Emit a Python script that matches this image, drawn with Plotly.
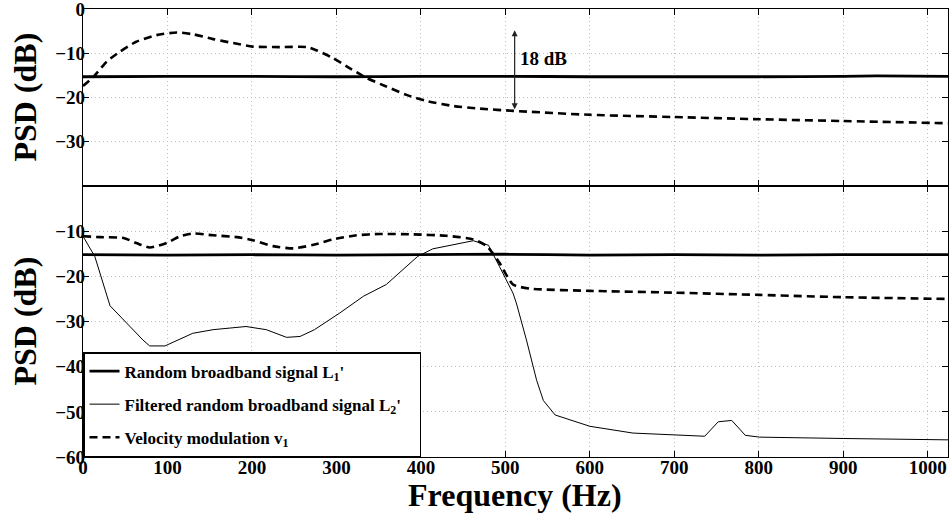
import plotly.graph_objects as go

# ---------------- data ----------------
freq_L1 = [0, 100, 200, 300, 400, 500, 600, 700, 800, 900, 940, 1024]
top_L1 = [-15.3, -15.2, -15.2, -15.3, -15.2, -15.2, -15.3, -15.3, -15.3, -15.2, -15.1, -15.2]
bot_L1 = [-15.2, -15.3, -15.2, -15.3, -15.2, -15.1, -15.3, -15.2, -15.3, -15.2, -15.2, -15.2]

freq_top_v1 = [0, 12, 28, 44, 63, 87, 111, 130, 154, 178, 201, 233, 265, 276, 296, 316,
               336, 359, 383, 407, 438, 470, 509, 600, 700, 801, 899, 1024]
top_v1 = [-17.4, -15.4, -11.9, -9.6, -7.4, -5.9, -5.3, -5.7, -6.8, -7.7, -8.5, -8.6, -8.6,
          -9.3, -11.1, -13.4, -15.6, -17.5, -19.4, -20.8, -21.9, -22.5, -23.0, -23.9,
          -24.4, -24.9, -25.3, -25.8]

freq_bot_v1 = [0, 20, 48, 63, 79, 99, 115, 130, 154, 182, 201, 225, 249, 273, 296, 324,
               351, 391, 430, 462, 478, 493, 509, 529, 600, 700, 801, 899, 1024]
bot_v1 = [-11.1, -11.3, -11.5, -12.6, -13.6, -12.6, -11.1, -10.5, -10.9, -11.3, -12.0,
          -13.3, -13.8, -13.0, -11.8, -10.9, -10.6, -10.7, -11.0, -11.8, -13.3, -17.0,
          -21.8, -22.7, -23.2, -23.6, -24.1, -24.6, -25.0]

freq_L2 = [0, 14, 32, 71, 79, 97, 130, 154, 193, 217, 241, 257, 274, 304, 332, 359, 396,
           414, 462, 480, 493, 509, 513, 525, 537, 545, 559, 600, 651, 700, 736, 752, 768,
           784, 801, 900, 1024]
bot_L2 = [-11.1, -15.6, -26.5, -34.1, -35.4, -35.4, -32.6, -31.8, -31.1, -31.8, -33.5,
          -33.3, -31.8, -28.1, -24.4, -21.8, -15.6, -13.9, -12.1, -13.1, -17.8, -23.7,
          -25.9, -34.1, -43.0, -47.5, -50.7, -53.2, -54.7, -55.1, -55.4, -52.2, -51.9,
          -55.2, -55.6, -55.9, -56.2]

x_ticks = [0, 100, 200, 300, 400, 500, 600, 700, 800, 900, 1000]
top_yticks = [0, -10, -20, -30]
bot_yticks = [-10, -20, -30, -40, -50, -60]

arrow_f = 511
arrow_top = -4.8
arrow_bot = -23.0

names = ["Random broadband signal L<sub>1</sub>'",
         "Filtered random broadband signal L<sub>2</sub>'&nbsp;&nbsp;&nbsp;",
         "Velocity modulation v<sub>1</sub>"]

# ---------------- figure ----------------
FONT = "Liberation Serif"
DASH = "8px,5px"

fig = go.Figure()

# bottom panel (x, y)
fig.add_trace(go.Scatter(x=freq_L1, y=bot_L1, mode="lines", name=names[0],
                         line=dict(color="black", width=2.8, shape="spline", smoothing=0.4),
                         legendgroup="a", xaxis="x", yaxis="y"))
fig.add_trace(go.Scatter(x=freq_L2, y=bot_L2, mode="lines", name=names[1],
                         line=dict(color="black", width=1),
                         legendgroup="b", xaxis="x", yaxis="y"))
fig.add_trace(go.Scatter(x=freq_bot_v1, y=bot_v1, mode="lines", name=names[2],
                         line=dict(color="black", width=2.6, dash=DASH, shape="spline", smoothing=0.6),
                         legendgroup="c", xaxis="x", yaxis="y"))

# top panel (x2, y2)
fig.add_trace(go.Scatter(x=freq_L1, y=top_L1, mode="lines", showlegend=False,
                         line=dict(color="black", width=2.8, shape="spline", smoothing=0.4),
                         xaxis="x2", yaxis="y2"))
fig.add_trace(go.Scatter(x=freq_top_v1, y=top_v1, mode="lines", showlegend=False,
                         line=dict(color="black", width=2.6, dash=DASH, shape="spline", smoothing=0.6),
                         xaxis="x2", yaxis="y2"))

split = 0.6047
tickfont = dict(family=FONT, size=19, color="black", weight="bold")
grid = dict(showgrid=True, gridcolor="#bdbdbd", griddash="1px,3px", gridwidth=1)
common_axis = dict(showline=True, linecolor="black", linewidth=1.3, mirror="ticks",
                   ticks="inside", ticklen=6, tickcolor="black", tickwidth=1.2,
                   zeroline=False, tickfont=tickfont, ticklabeloverflow="allow",
                   automargin=False, **grid)

fig.update_layout(
    width=952, height=515,
    margin=dict(l=83, r=4, t=9, b=58),
    paper_bgcolor="white", plot_bgcolor="white",
    font=dict(family=FONT, color="black"),
    xaxis=dict(range=[0, 1024], tickvals=x_ticks, anchor="y", ticklabelstandoff=-7,
               **common_axis),
    yaxis=dict(range=[-60, 0], tickvals=bot_yticks, domain=[0, split], anchor="x",
               ticklabelstandoff=-7, **common_axis),
    xaxis2=dict(range=[0, 1024], tickvals=x_ticks, anchor="y2", matches="x",
                showticklabels=False, **common_axis),
    yaxis2=dict(range=[-40, 0], tickvals=top_yticks, domain=[split, 1], anchor="x2",
                ticklabelstandoff=-7, **common_axis),
    legend=dict(x=0, y=0, xanchor="left", yanchor="bottom", xref="paper", yref="paper",
                bgcolor="white", bordercolor="black", borderwidth=1.5,
                font=dict(family=FONT, size=17, color="black", weight="bold"),
                traceorder="grouped", tracegroupgap=8, itemwidth=30),
    showlegend=True,
)

# arrow with heads at both ends
fig.add_annotation(x=arrow_f, y=arrow_top, ax=arrow_f, ay=arrow_bot,
                   xref="x2", yref="y2", axref="x2", ayref="y2",
                   showarrow=True, arrowhead=2, startarrowhead=2, arrowside="end+start",
                   arrowwidth=1.2, arrowsize=1, arrowcolor="#222", text="")
fig.add_annotation(x=arrow_f + 4, y=-11.2, xref="x2", yref="y2", text="18 dB",
                   showarrow=False, xanchor="left", yanchor="middle",
                   font=dict(family=FONT, size=19, color="black", weight="bold"))

# axis titles
title_font = dict(family=FONT, size=32, color="black", weight="bold")
fig.add_annotation(x=-0.067, y=0.5, xref="paper", yref="y2 domain", text="PSD (dB)",
                   textangle=-90, showarrow=False, xanchor="center", yanchor="middle",
                   font=title_font)
fig.add_annotation(x=-0.067, y=0.5, xref="paper", yref="y domain", text="PSD (dB)",
                   textangle=-90, showarrow=False, xanchor="center", yanchor="middle",
                   font=title_font)
fig.add_annotation(x=0.499, y=-0.0857, xref="paper", yref="paper", text="Frequency (Hz)",
                   showarrow=False, xanchor="center", yanchor="middle", font=title_font)

fig.write_html("out.html", config={"displayModeBar": False},
               post_script="document.body.style.margin='0';document.body.style.overflow='hidden';")
